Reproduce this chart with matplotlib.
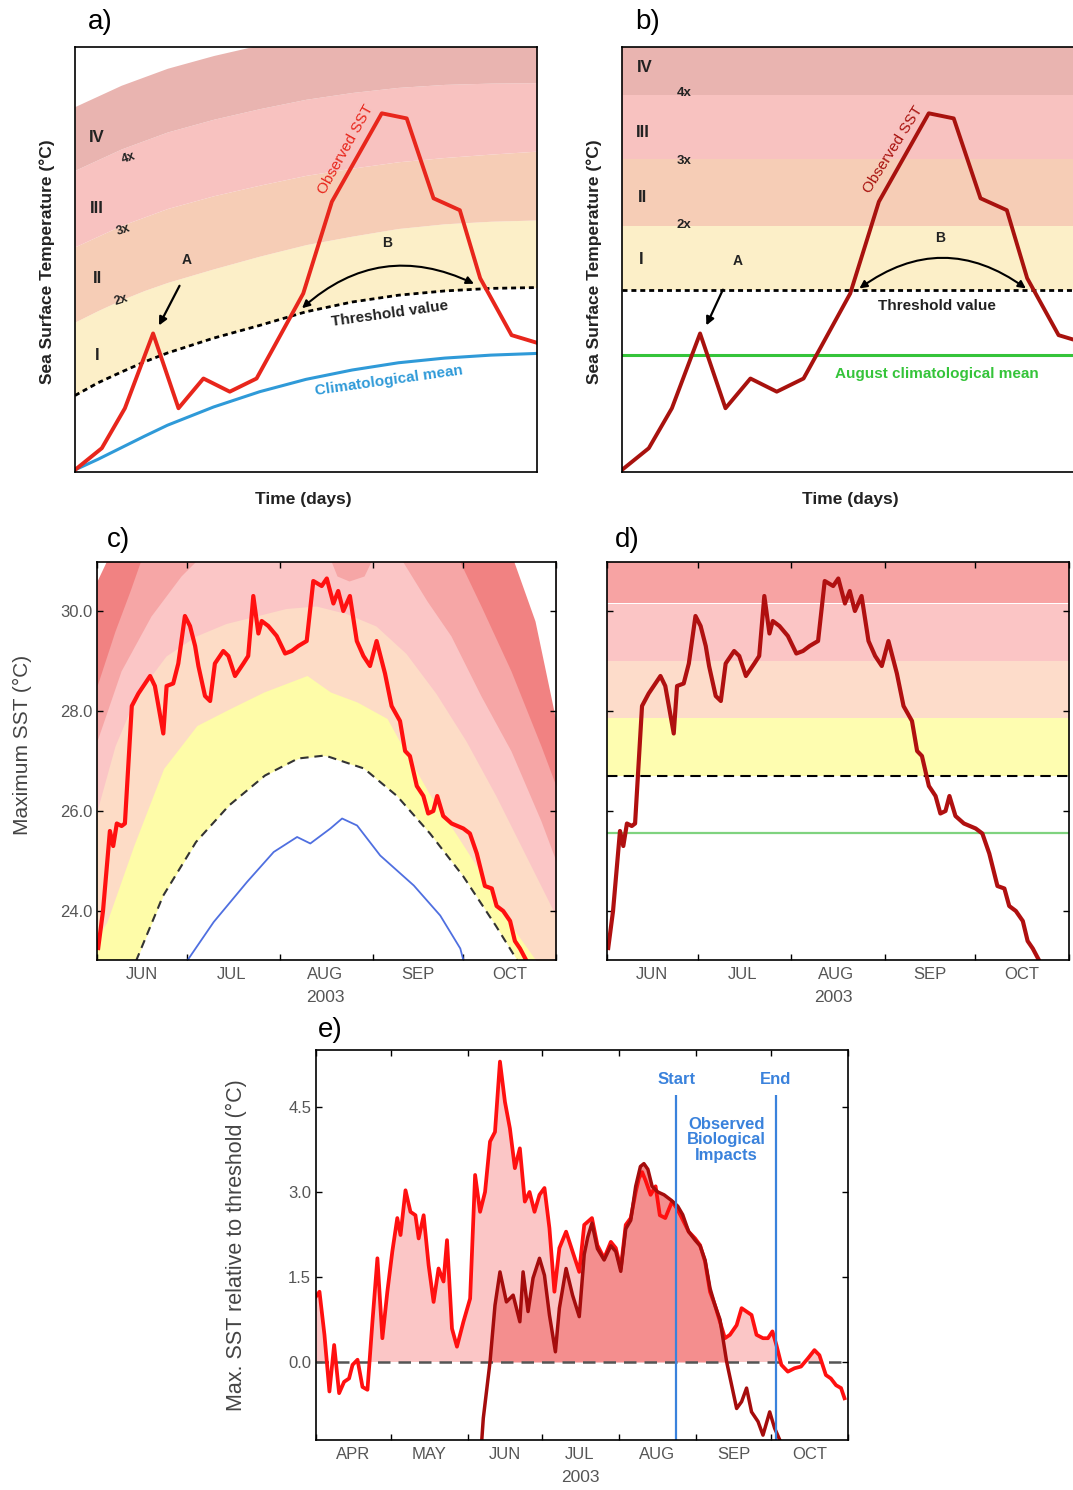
import numpy as np
import matplotlib
matplotlib.use("Agg")
import matplotlib.pyplot as plt
from matplotlib.patches import FancyArrowPatch

plt.rcParams['font.family'] = ['Liberation Sans', 'DejaVu Sans']
plt.rcParams['axes.linewidth'] = 1.2

# ---------------- schematic curves for a) and b) (arbitrary units) ----------------
t_obs = [0, 5.8, 10.8, 16.9, 22.4, 27.8, 33.5, 39.3, 43.3, 49.4, 55.6, 66.4, 71.8, 77.6, 83.3, 87.7, 94.5, 100.3]
sst_obs = [0.5, 5.6, 15.0, 32.6, 15.0, 22.0, 18.9, 22.0, 29.9, 42.0, 63.6, 84.4, 83.2, 64.4, 61.6, 45.6, 32.2, 30.3]

t_ref = [0, 5, 10, 15, 20, 30, 40, 50, 60, 70, 80, 90, 100]
clim_ref = [0.5, 3.0, 5.7, 8.4, 11.0, 15.3, 18.9, 21.8, 24.0, 25.7, 26.8, 27.5, 27.9]
thr_ref = [18.0, 21.0, 23.5, 25.9, 28.0, 31.5, 34.5, 37.7, 40.0, 41.6, 42.6, 43.2, 43.4]
cat2_ref = [35.3, 38.0, 40.5, 42.7, 44.6, 47.8, 50.8, 53.5, 55.5, 57.3, 58.4, 59.0, 59.3]
cat3_ref = [53.0, 55.5, 58.0, 60.0, 62.0, 65.0, 67.5, 69.8, 71.5, 73.0, 74.0, 74.8, 75.5]
cat4_ref = [71.0, 73.5, 76.0, 78.0, 80.0, 83.0, 85.5, 87.7, 89.3, 90.5, 91.2, 91.5, 91.6]
cat5_ref = [86.0, 88.5, 91.0, 93.0, 95.0, 98.0, 100.5, 103.0, 105.0, 106.0, 107.0, 107.5, 107.8]

# fixed August levels used in b)
thr_fixed = 42.8
clim_aug = 27.5
cat_fixed = [57.9, 73.6, 88.7]

cat_names = ['I', 'II', 'III', 'IV']
mult_names = ['2x', '3x', '4x']

# ---------------- daily max SST 2003 (day of year), panels c) and d) ----------------
sst_doy = [152.4, 154, 156.3, 157.4, 158.6, 160.2, 161.3, 163.6, 165.8, 169.7, 171.3, 174.1, 175.2, 177.4,
           179.1, 181.3, 183, 184.7, 185.8, 188, 189.7, 191.3, 194.1, 195.8, 198, 200.8, 202.4, 204.1,
           205.8, 206.9, 209.1, 211.9, 214.7, 216.9, 219.1, 221.9, 224.1, 226.9, 228.6, 230.8, 232.4,
           234.1, 236.3, 238.6, 240.8, 243, 245.2, 248, 250.2, 253, 254.7, 256.3, 258.6, 260.8, 262.4,
           264.1, 265.4, 267.4, 270.2, 274.1, 276.3, 278.6, 281.3, 283.6, 285.2, 287.4, 289.7, 291.3,
           293, 295.2]
sst_val = [23.26, 24.0, 25.6, 25.3, 25.75, 25.7, 25.75, 28.1, 28.35, 28.7, 28.5, 27.55, 28.5, 28.55,
           28.95, 29.9, 29.7, 29.3, 28.9, 28.3, 28.2, 28.95, 29.2, 29.1, 28.7, 28.95, 29.1, 30.3,
           29.55, 29.8, 29.7, 29.5, 29.15, 29.2, 29.3, 29.4, 30.6, 30.5, 30.65, 30.15, 30.4,
           30.0, 30.3, 29.4, 29.1, 28.9, 29.4, 28.75, 28.1, 27.8, 27.2, 27.1, 26.5, 26.3, 25.95,
           26.0, 26.3, 25.9, 25.75, 25.65, 25.55, 25.15, 24.5, 24.45, 24.1, 24.0, 23.8, 23.4,
           23.25, 23.0]

thr_doy = [165, 174, 185, 196, 208, 219, 228, 241, 252, 263, 274, 285, 292]
thr_val = [23.0, 24.3, 25.38, 26.11, 26.71, 27.05, 27.11, 26.85, 26.3, 25.55, 24.7, 23.7, 23.02]

clim_doy = [182, 190.9, 202, 210.9, 218.7, 223.1, 229.8, 233.7, 238.7, 246.4, 257.6, 266.4, 273.1, 274.2]
clim_val = [23.0, 23.78, 24.58, 25.18, 25.48, 25.35, 25.65, 25.85, 25.71, 25.11, 24.51, 23.91, 23.25, 23.0]

# lower edges of the category bands (2x, 3x, 4x, 5x, masked)
cat2_doy = [152, 155.3, 164.2, 174.2, 185.3, 196.4, 207.6, 222, 229.8, 238.7, 248.7, 254.2, 263.1, 272,
            279.8, 287.6, 298.7, 305]
cat2_val = [23.45, 23.78, 25.3, 26.85, 27.71, 28.05, 28.38, 28.71, 28.38, 28.18, 27.85, 27.25, 26.31,
            25.51, 24.78, 23.91, 22.98, 22.4]
cat3_doy = [152, 158, 165, 175, 185, 195, 205, 215, 225, 235, 245, 255, 265, 275, 285, 295, 305]
cat3_val = [26.0, 27.3, 28.3, 29.1, 29.5, 29.75, 29.9, 30.05, 30.1, 29.95, 29.7, 29.15, 28.35, 27.4,
            26.3, 25.1, 23.9]
cat4_doy = [152, 160, 170, 180, 185, 190, 200, 215, 228, 232, 236, 241, 245, 250, 254, 262, 270, 280,
            290, 300, 305]
cat4_val = [27.4, 28.8, 29.9, 30.7, 31.0, 31.3, 31.6, 31.7, 31.3, 30.7, 30.6, 30.7, 31.2, 31.2, 30.98,
            30.2, 29.5, 28.3, 27.2, 25.8, 25.0]
cat5_doy = [152, 158, 163, 166.4, 172, 265, 273, 280, 290, 300, 305]
cat5_val = [28.5, 29.6, 30.4, 30.98, 31.8, 31.8, 30.98, 30.1, 28.8, 27.3, 26.5]
cat6_doy = [152, 155, 158, 288, 291, 298, 305]
cat6_val = [30.6, 30.98, 31.8, 31.8, 30.98, 29.8, 27.8]

# fixed August threshold / categories for d)
d_thr = 26.7
d_mean = 25.55
d_cats = [27.85, 29.0, 30.15]

# ---------------- e) max SST relative to threshold ----------------
rel_doy = [90.4, 92.4, 94.4, 96.4, 98.3, 100.3, 102.3, 104.3, 105.7, 107.7, 109.7, 111.7, 113.7, 115.7,
           117.7, 119.7, 121.7, 123.7, 125, 127, 129, 131, 132.3, 134.3, 136.3, 138.3, 140.3, 142.3,
           143.7, 145.7, 147.7, 150.3, 153, 155, 157, 159, 161, 163, 165, 167, 169, 171, 173, 175,
           176.9, 178.9, 180.9, 182.9, 184.9, 186.9, 188.9, 191.6, 194.2, 196.9, 198.9, 202, 204.2,
           206.9, 209.6, 211.6, 213.6, 215.6, 217.6, 219.6, 220.9, 222.2, 223.6, 225.6, 227.6, 229.3,
           231.5, 234.2, 236.2, 238.2, 240.9, 243.5, 245.5, 247.5, 249.5, 251.5, 253.5, 255.5, 257.5,
           260.2, 262.2, 264.2, 266.2, 268.2, 270.8, 272.8, 274.6, 276.2, 278.2, 280.8, 283.5, 286.1,
           288.8, 291.5, 293.5, 296.1, 298.1, 300.2, 302.2, 303.6]
rel_val = [1.12, 1.24, 0.48, -0.52, 0.30, -0.55, -0.35, -0.29, -0.05, 0.04, -0.44, -0.49, 0.71, 1.83,
           0.42, 1.24, 1.95, 2.54, 2.24, 3.03, 2.65, 2.59, 2.18, 2.59, 1.71, 1.06, 1.65, 1.42,
           2.15, 0.59, 0.27, 0.71, 1.12, 3.30, 2.65, 3.00, 3.89, 4.06, 5.30, 4.59, 4.12, 3.42, 3.77, 2.83,
           3.00, 2.65, 2.95, 3.07, 2.36, 1.24, 2.01, 2.30, 1.95, 1.59, 2.42, 2.54, 2.06,
           1.83, 2.12, 2.01, 1.65, 2.42, 2.54, 3.00, 3.24, 3.35, 3.20, 2.95, 3.10, 2.59,
           2.54, 2.83, 2.71, 2.54, 2.30, 2.18, 2.06, 1.77, 1.24, 1.00, 0.71, 0.42, 0.48,
           0.65, 0.95, 0.89, 0.83, 0.48, 0.42, 0.42, 0.54, 0.30, -0.05, -0.17, -0.11, -0.08,
           0.06, 0.21, 0.12, -0.23, -0.29, -0.41, -0.46, -0.64]

fix_doy = [157.6, 158.3, 161, 163, 165, 167.6, 170.3, 173, 174.3, 176.3, 178.3, 180.9, 182.9, 184.9,
           187.3, 188.9, 191.6, 194.2, 196.9, 198.9, 200.3, 202, 204.2, 206.9, 209.6, 211.6, 213.6,
           215.6, 217.6, 219.6, 221.5, 222.9, 224.5, 226.2, 228.5, 231, 234, 236.5, 238.5, 240.9,
           243.5, 245.5, 247.5, 249.5, 251.5, 253.5, 256.2, 258.2, 260.2, 262.2, 264.2, 266.2, 268.8,
           270.8, 273.5, 275.5, 278.1]
fix_val = [-1.43, -0.99, 0.0, 1.0, 1.59, 1.06, 1.18, 0.71, 1.59, 0.89, 1.48, 1.83, 1.53, 0.83,
           0.18, 0.95, 1.65, 1.18, 0.8, 1.9, 2.2, 2.45, 2.0, 1.8, 2.05, 1.95, 1.6,
           2.35, 2.5, 3.1, 3.45, 3.5, 3.4, 3.1, 3.0, 2.95, 2.85, 2.75, 2.6, 2.3,
           2.15, 2.05, 1.8, 1.3, 1.0, 0.75, 0.0, -0.41, -0.82, -0.7, -0.46, -0.88, -1.05,
           -1.29, -0.88, -1.17, -1.43]

impact_start = 236
impact_end = 276

month_edges_cd = [152, 182, 213, 244, 274, 305]
month_mids_cd = [167, 197, 228, 259, 289.5]
month_names_cd = ['JUN', 'JUL', 'AUG', 'SEP', 'OCT']
month_edges_e = [91, 121, 152, 182, 213, 244, 274, 305]
month_mids_e = [106, 136.5, 167, 197, 228, 259, 289.5]
month_names_e = ['APR', 'MAY', 'JUN', 'JUL', 'AUG', 'SEP', 'OCT']

W, H = 1073, 1490
fig = plt.figure(figsize=(W / 100, H / 100), dpi=100)


def add_ax(x0, y0, x1, y1):
    return fig.add_axes([x0 / W, 1 - y1 / H, (x1 - x0) / W, (y1 - y0) / H])


def ftext(x, y, s, **kw):
    kw.setdefault('ha', 'center')
    kw.setdefault('va', 'center')
    fig.text(x / W, 1 - y / H, s, **kw)


def month_axis(ax, edges, mids, names):
    ax.set_xticks(edges)
    ax.set_xticklabels([])
    ax.set_xticks(mids, minor=True)
    ax.set_xticklabels(names, minor=True)
    ax.tick_params(axis='x', which='minor', length=0, pad=5, labelsize=12, labelcolor='#555555')
    ax.tick_params(which='major', direction='in', length=4, width=1, top=True, right=True,
                   labelsize=12, labelcolor='#555555')


schem_cols = ['#fcefc8', '#f6cdb6', '#f8c2c0', '#e9b4b0']
lab = dict(fontweight='bold', color='#222222')

# ---------------- a) ----------------
ax = add_ax(75, 47, 537, 472)
edges = [thr_ref, cat2_ref, cat3_ref, cat4_ref, cat5_ref]
for i, col in enumerate(schem_cols):
    ax.fill_between(t_ref, edges[i], edges[i + 1], color=col, lw=0)
ax.plot(t_ref, thr_ref, color='black', lw=2, dashes=(1.8, 1.4))
ax.plot(t_ref, clim_ref, color='#2f9ad8', lw=2.2)
ax.plot(t_obs, sst_obs, color='#e8261c', lw=2.8)
ax.set_xlim(0, 100)
ax.set_ylim(0, 100)
ax.set_xticks([])
ax.set_yticks([])
for name, y in zip(cat_names, [27.5, 45.6, 62.1, 78.8]):
    ax.text(4.8, y, name, fontsize=12, ha='center', va='center', **lab)
for name, x, y in zip(mult_names, [10.0, 10.6, 11.5], [40.5, 56.9, 73.9]):
    ax.text(x, y, name, fontsize=9, rotation=18, ha='center', va='center', **lab)
ax.text(24.2, 49.9, 'A', fontsize=10, ha='center', va='center', **lab)
ax.text(67.5, 53.9, 'B', fontsize=10, ha='center', va='center', **lab)
ax.annotate('', xy=(17.9, 33.9), xytext=(22.9, 44.4),
            arrowprops=dict(arrowstyle='-|>', lw=1.6, color='black', mutation_scale=12))
ax.add_patch(FancyArrowPatch((48.7, 38.1), (86.9, 44.0), arrowstyle='<|-|>', mutation_scale=11,
                             connectionstyle='arc3,rad=-0.34', lw=1.5, color='black'))
ax.text(68.2, 37.2, 'Threshold value', fontsize=11, rotation=8, ha='center', va='center', **lab)
ax.text(68.0, 21.4, 'Climatological mean', fontsize=11, rotation=8, ha='center', va='center',
        fontweight='bold', color='#2f9ad8')
ax.text(58.7, 75.8, 'Observed SST', fontsize=11, rotation=61, ha='center', va='center', color='#e8261c')

# ---------------- b) ----------------
ax = add_ax(622, 47, 1084, 472)
levels = [thr_fixed] + cat_fixed + [100]
for i, col in enumerate(schem_cols):
    ax.axhspan(levels[i], levels[i + 1], color=col, lw=0)
ax.axhline(thr_fixed, color='black', lw=2, dashes=(1.8, 1.4))
ax.axhline(clim_aug, color='#35c43a', lw=2.2)
ax.plot(t_obs, sst_obs, color='#a8120e', lw=2.8)
ax.set_xlim(0, 100)
ax.set_ylim(0, 100)
ax.set_xticks([])
ax.set_yticks([])
for name, x, y in zip(cat_names, [4.1, 4.5, 4.5, 5.0], [49.9, 64.5, 80.0, 95.1]):
    ax.text(x, y, name, fontsize=12, ha='center', va='center', **lab)
for name, y in zip(mult_names, [58.1, 73.2, 89.2]):
    ax.text(13.4, y, name, fontsize=9.5, ha='center', va='center', **lab)
ax.text(25.1, 49.6, 'A', fontsize=10, ha='center', va='center', **lab)
ax.text(68.8, 55.1, 'B', fontsize=10, ha='center', va='center', **lab)
ax.annotate('', xy=(18.0, 33.9), xytext=(22.1, 43.5),
            arrowprops=dict(arrowstyle='-|>', lw=1.6, color='black', mutation_scale=12))
ax.add_patch(FancyArrowPatch((50.9, 42.8), (87.9, 42.8), arrowstyle='<|-|>', mutation_scale=11,
                             connectionstyle='arc3,rad=-0.37', lw=1.5, color='black'))
ax.text(68.2, 39.0, 'Threshold value', fontsize=11, ha='center', va='center', **lab)
ax.text(68.2, 23.1, 'August climatological mean', fontsize=11, ha='center', va='center',
        fontweight='bold', color='#35c43a')
ax.text(58.7, 75.8, 'Observed SST', fontsize=11, rotation=58, ha='center', va='center', color='#a8120e')

ftext(100, 22, 'a)', fontsize=20)
ftext(648, 22, 'b)', fontsize=20)
for x in (303, 850):
    ftext(x, 500, 'Time (days)', fontsize=12.5, **lab)
for x in (47, 594):
    ftext(x, 262, 'Sea Surface Temperature (°C)', fontsize=12.5, rotation=90, **lab)

# ---------------- c) ----------------
c_cols = ['#fefca8', '#fddcc6', '#fbc6c6', '#f6a6a6', '#f18282']
ax = add_ax(97, 562, 556, 960)
ax.axhspan(20, 33, color=c_cols[0], lw=0)
ax.fill_between(thr_doy, 20, thr_val, color='white', lw=0)
for (dx, dv), col in zip([(cat2_doy, cat2_val), (cat3_doy, cat3_val), (cat4_doy, cat4_val),
                          (cat5_doy, cat5_val), (cat6_doy, cat6_val)], c_cols[1:] + ['white']):
    ax.fill_between(dx, dv, 33, color=col, lw=0)
ax.plot(thr_doy, thr_val, color='#333333', lw=1.5, dashes=(4, 2.8))
ax.plot(clim_doy, clim_val, color='#4f6fe0', lw=1.3)
ax.plot(sst_doy, sst_val, color='#ff1010', lw=3.0)
ax.set_xlim(152, 305)
ax.set_ylim(23.02, 30.98)
ax.set_yticks([24, 26, 28, 30])
ax.set_yticklabels(['24.0', '26.0', '28.0', '30.0'])
month_axis(ax, month_edges_cd, month_mids_cd, month_names_cd)
ftext(118, 540, 'c)', fontsize=20)
ftext(325, 998, '2003', fontsize=12.5, color='#555555')
ftext(22, 745, 'Maximum SST (°C)', fontsize=15, rotation=90, color='#444444')

# ---------------- d) ----------------
d_cols = ['#fefdb0', '#fddcca', '#fbc5c5', '#f7a3a3']
ax = add_ax(607, 562, 1069, 960)
d_levels = [d_thr] + d_cats + [33]
for i, col in enumerate(d_cols):
    ax.axhspan(d_levels[i], d_levels[i + 1], color=col, lw=0)
ax.axhline(d_thr, color='black', lw=1.5, dashes=(5, 3))
ax.axhline(d_mean, color='#7fd37f', lw=1.6)
ax.plot(sst_doy, sst_val, color='#b01010', lw=3.0)
ax.set_xlim(152, 305)
ax.set_ylim(23.02, 30.98)
ax.set_yticks([24, 26, 28, 30])
ax.set_yticklabels([])
month_axis(ax, month_edges_cd, month_mids_cd, month_names_cd)
ftext(627, 540, 'd)', fontsize=20)
ftext(833, 998, '2003', fontsize=12.5, color='#555555')

# ---------------- e) ----------------
ax = add_ax(316, 1050, 848, 1440)
rv = np.array(rel_val)
fv = np.array(fix_val)
ax.fill_between(rel_doy, 0, rv, where=rv > 0, interpolate=True, color='#fbc6c6', lw=0)
ax.fill_between(fix_doy, 0, fv, where=fv > 0, interpolate=True, color='#f48e8e', lw=0)
ax.axhline(0, color='#555555', lw=1.8, dashes=(5, 3.2))
ax.plot(rel_doy, rel_val, color='#ff1010', lw=2.7)
ax.plot(fix_doy, fix_val, color='#a50c0c', lw=2.5)
blue = '#3a82dc'
ax.vlines([impact_start, impact_end], -2, 4.71, color=blue, lw=1.6)
ax.text(impact_start, 4.98, 'Start', fontsize=12, fontweight='bold', color=blue, ha='center', va='center')
ax.text(impact_end, 4.98, 'End', fontsize=12, fontweight='bold', color=blue, ha='center', va='center')
ax.text((impact_start + impact_end) / 2, 3.92, 'Observed\nBiological\nImpacts', fontsize=12,
        fontweight='bold', color=blue, ha='center', va='center', linespacing=1.05)
ax.set_xlim(91.4, 304)
ax.set_ylim(-1.376, 5.505)
ax.set_yticks([0, 1.5, 3.0, 4.5])
ax.set_yticklabels(['0.0', '1.5', '3.0', '4.5'])
month_axis(ax, month_edges_e, month_mids_e, month_names_e)
ftext(330, 1030, 'e)', fontsize=20)
ftext(580, 1478, '2003', fontsize=12.5, color='#555555')
ftext(236, 1245, 'Max. SST relative to threshold (°C)', fontsize=15.5, rotation=90, color='#444444')

fig.savefig('out.png', dpi=100)
